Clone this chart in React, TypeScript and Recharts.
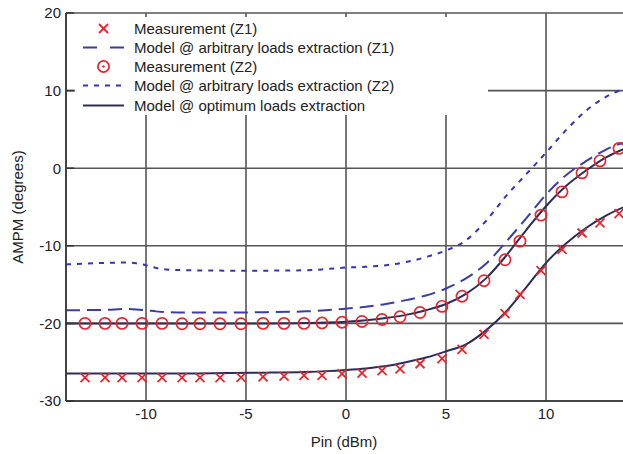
import React from 'react';
import { ComposedChart, Line, Scatter, XAxis, YAxis, CartesianGrid, Legend, Label } from 'recharts';

// measured points (same Pin for both impedances)
const pinMeas = [-13.05, -12.05, -11.2, -10.2, -9.2, -8.2, -7.3, -6.3, -5.25, -4.15, -3.1, -2.1, -1.2, -0.2, 0.8, 1.8, 2.7, 3.7, 4.8, 5.8, 6.9, 7.95, 8.7, 9.75, 10.8, 11.8, 12.7, 13.65];
const measZ1 = [-27.0, -27.0, -27.0, -27.0, -27.0, -27.0, -27.0, -27.0, -26.95, -26.9, -26.8, -26.7, -26.7, -26.5, -26.4, -26.1, -25.85, -25.2, -24.55, -23.35, -21.4, -18.75, -16.25, -13.2, -10.45, -8.35, -7.05, -5.85];
const measZ2 = [-20.0, -20.0, -20.0, -20.0, -20.0, -20.05, -20.05, -20.05, -20.05, -20.0, -20.0, -20.0, -19.95, -19.85, -19.75, -19.5, -19.15, -18.6, -17.8, -16.5, -14.5, -11.8, -9.4, -6.05, -3.05, -0.6, 0.95, 2.55];

// model curves
const pinModel = [-14, -12, -11, -10.5, -10, -9.5, -9, -8, -6, -4, -2, -1, 0, 1, 2, 3, 4, 5, 6, 7, 8, 9, 10, 11, 12, 13, 14];
const arbZ1 = [-18.3, -18.25, -18.15, -18.2, -18.3, -18.45, -18.55, -18.6, -18.6, -18.55, -18.45, -18.3, -18.1, -17.85, -17.5, -17.0, -16.4, -15.5, -14.2, -12.3, -9.5, -6.5, -3.4, -0.9, 0.9, 2.4, 3.4];
const arbZ2 = [-12.4, -12.2, -12.15, -12.25, -12.5, -12.85, -13.05, -13.15, -13.2, -13.2, -13.15, -13.0, -12.8, -12.7, -12.5, -12.1, -11.45, -10.6, -9.3, -6.8, -3.6, -0.8, 2.0, 4.9, 7.4, 9.2, 10.3];
const optZ1 = [-26.45, -26.45, -26.45, -26.45, -26.45, -26.45, -26.45, -26.45, -26.4, -26.35, -26.25, -26.15, -26.0, -25.8, -25.5, -25.0, -24.4, -23.6, -22.7, -20.9, -18.5, -15.4, -12.2, -9.7, -7.7, -6.1, -4.9];
const optZ2 = [-20.0, -20.0, -20.0, -20.0, -20.0, -20.0, -20.0, -20.0, -20.0, -20.0, -19.95, -19.9, -19.8, -19.6, -19.3, -18.9, -18.3, -17.5, -16.2, -14.2, -11.3, -8.0, -4.9, -2.3, -0.3, 1.4, 2.6];

const xTicks = [-10, -5, 0, 5, 10];
const yTicks = [-30, -20, -10, 0, 10, 20];
const legendLabels = [
  'Measurement (Z1)',
  'Model @ arbitrary loads extraction (Z1)',
  'Measurement (Z2)',
  'Model @ arbitrary loads extraction (Z2)',
  'Model @ optimum loads extraction',
];

const RED = '#e8262b';
const BLUE_DASH = '#3c3ca6';
const BLUE_DOT = '#3535b8';
const NAVY = '#2c2c58';
const GRID = '#555';
const FONT = '"Liberation Sans", Arial, Helvetica, sans-serif';

const toPts = (xs: number[], ys: number[]) => xs.map((x, i) => ({ x, y: ys[i] }));

const Cross = (props: any) => {
  const { cx, cy } = props;
  const s = 4.5;
  return (
    <g stroke={RED} strokeWidth={1.8}>
      <line x1={cx - s} y1={cy - s} x2={cx + s} y2={cy + s} />
      <line x1={cx - s} y1={cy + s} x2={cx + s} y2={cy - s} />
    </g>
  );
};

const Ring = (props: any) => {
  const { cx, cy } = props;
  return <circle cx={cx} cy={cy} r={5.6} fill="none" stroke={RED} strokeWidth={1.7} />;
};

const legendIcon = (i: number) => {
  switch (i) {
    case 0:
      return <Cross cx={28.5} cy={9.5} />;
    case 1:
      return <line x1={8} y1={9.5} x2={49} y2={9.5} stroke={BLUE_DASH} strokeWidth={2} strokeDasharray="14 13" />;
    case 2:
      return (
        <g>
          <Ring cx={28.5} cy={9.5} />
          <circle cx={28.5} cy={9.5} r={1.2} fill={RED} />
        </g>
      );
    case 3:
      return <line x1={8} y1={9.5} x2={49} y2={9.5} stroke={BLUE_DOT} strokeWidth={2} strokeDasharray="5 6" />;
    default:
      return <line x1={8} y1={9.5} x2={49} y2={9.5} stroke={NAVY} strokeWidth={2} />;
  }
};

const renderLegend = () => (
  <div style={{ paddingTop: 1.4, fontFamily: FONT, fontSize: 15, color: '#222' }}>
    {legendLabels.map((label, i) => (
      <div key={label} style={{ display: 'flex', alignItems: 'center', height: 19.3 }}>
        <svg width={59} height={19}>{legendIcon(i)}</svg>
        <span style={{ whiteSpace: 'nowrap' }}>{label}</span>
      </div>
    ))}
  </div>
);

export default function App() {
  return (
    <div style={{ position: 'absolute', left: 0, top: 0, width: 623, height: 454, overflow: 'hidden', background: '#fff' }}>
      <ComposedChart width={640} height={454} margin={{ top: 13, right: 14, bottom: 0, left: 0 }}>
        <CartesianGrid stroke={GRID} strokeWidth={1.6} />
        <XAxis
          dataKey="x"
          type="number"
          domain={[-14, 14]}
          ticks={xTicks}
          allowDataOverflow
          height={53}
          tickLine={false}
          tickSize={0}
          tickMargin={7}
          axisLine={{ stroke: '#333', strokeWidth: 1.5 }}
          tick={{ fill: '#222', fontSize: 15, fontFamily: FONT }}
        >
          <Label
            content={(p: any) => {
              const vb = p.viewBox;
              return (
                <text x={vb.x + vb.width / 2 - 2} y={447} textAnchor="middle" fill="#222" fontSize={15} fontFamily={FONT}>
                  Pin (dBm)
                </text>
              );
            }}
          />
        </XAxis>
        <XAxis
          xAxisId="top"
          orientation="top"
          type="number"
          domain={[-14, 14]}
          ticks={xTicks}
          allowDataOverflow
          height={0}
          tickSize={-5}
          tickFormatter={() => ''}
          axisLine={{ stroke: '#333', strokeWidth: 1.5 }}
          tickLine={{ stroke: '#333', strokeWidth: 1.5 }}
        />
        <YAxis
          dataKey="y"
          type="number"
          domain={[-30, 20]}
          ticks={yTicks}
          allowDataOverflow
          width={66}
          tickSize={-8}
          tickMargin={13}
          axisLine={{ stroke: '#333', strokeWidth: 1.5 }}
          tickLine={{ stroke: '#333', strokeWidth: 1.5 }}
          tick={{ fill: '#222', fontSize: 15, fontFamily: FONT }}
        >
          <Label
            content={(p: any) => {
              const vb = p.viewBox;
              const cy = vb.y + vb.height / 2;
              return (
                <text x={17} y={cy} transform={`rotate(-90 17 ${cy})`} textAnchor="middle" dominantBaseline="central" fill="#222" fontSize={15} fontFamily={FONT}>
                  AMPM (degrees)
                </text>
              );
            }}
          />
        </YAxis>
        <Legend
          layout="vertical"
          align="center"
          verticalAlign="middle"
          content={renderLegend}
          wrapperStyle={{ left: 75, top: 17, width: 413, height: 98, background: '#fff' }}
        />
        <Line data={toPts(pinModel, arbZ2)} dataKey="y" type="monotone" stroke={BLUE_DOT} strokeWidth={2} strokeDasharray="5 6" dot={false} isAnimationActive={false} />
        <Line data={toPts(pinModel, arbZ1)} dataKey="y" type="monotone" stroke={BLUE_DASH} strokeWidth={2} strokeDasharray="14 7" dot={false} isAnimationActive={false} />
        <Line data={toPts(pinModel, optZ2)} dataKey="y" type="monotone" stroke={NAVY} strokeWidth={2} dot={false} isAnimationActive={false} />
        <Line data={toPts(pinModel, optZ1)} dataKey="y" type="monotone" stroke={NAVY} strokeWidth={2} dot={false} isAnimationActive={false} />
        <Scatter data={toPts(pinMeas, measZ2)} dataKey="y" shape={Ring} isAnimationActive={false} />
        <Scatter data={toPts(pinMeas, measZ1)} dataKey="y" shape={Cross} isAnimationActive={false} />
      </ComposedChart>
    </div>
  );
}
